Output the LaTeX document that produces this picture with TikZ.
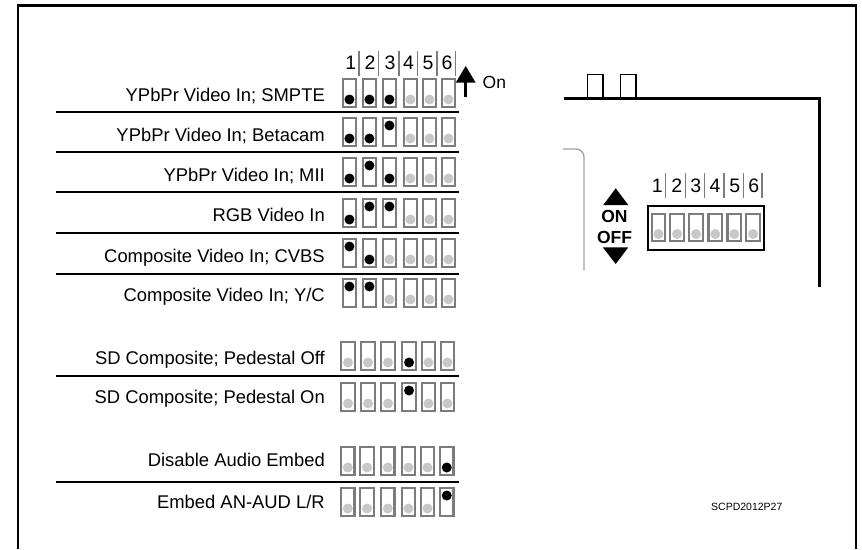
\documentclass[tikz,border=0pt]{standalone}
\usepackage{fontspec}
\setmainfont{Liberation Sans}
\definecolor{swg}{HTML}{7C7C7C}
\definecolor{dotg}{HTML}{C8C8C8}
\definecolor{edgeg}{HTML}{A0A0A0}
\tikzset{
 frameline/.style={line width=2.6pt,black},
 bodyline/.style={line width=2.9pt,black},
 portline/.style={line width=1.9pt,black},
 sepline/.style={line width=1.9pt,black},
 swbox/.style={draw=swg,line width=2.1pt},
 barline/.style={draw=swg,line width=1.3pt},
 lab/.style={anchor=base east,font=\fontsize{18.4}{20}\selectfont,inner sep=0pt},
 num/.style={font=\fontsize{19.5}{21}\selectfont,inner sep=0pt},
 big/.style={font=\fontsize{17.5}{20}\bfseries\selectfont,inner sep=0pt},
}
% #1 top y, #2 height, #3 dot low offset, #4 dot high offset, #5 list xleft/state
\newcommand{\swrow}[5]{%
 \foreach \xx/\st in {#5}{%
  \draw[swbox] (\xx+1,#1+1) rectangle (\xx+14.5,#1+#2-1);
  \ifnum\st=0 \fill[dotg] (\xx+7.75,#1+#3) circle (5);\fi
  \ifnum\st=1 \fill[black] (\xx+7.75,#1+#3) circle (5);\fi
  \ifnum\st=2 \fill[black] (\xx+7.75,#1+#4) circle (5);\fi
 }}
\newcommand{\rowA}[7]{\swrow{#1}{30}{21.5}{8.5}{341.7/#2,361.7/#3,381.7/#4,402.7/#5,421.7/#6,440.7/#7}}
\newcommand{\rowB}[7]{\swrow{#1}{30}{21.5}{8.5}{340.3/#2,360.3/#3,380.3/#4,401.3/#5,420.7/#6,439.7/#7}}
\newcommand{\rowC}[7]{\swrow{#1}{30}{21.5}{8.5}{340/#2,359.3/#3,380/#4,400.7/#5,419.7/#6,439/#7}}
\begin{document}
\begin{tikzpicture}[x=1pt,y=-1pt]
\useasboundingbox (0,0) rectangle (862,549);
% outer frame
\draw[frameline] (18,549) -- (18,5.5) -- (855.8,5.5) -- (855.8,549);
% header
\foreach \nx/\nn in {350.7/1,370/2,390/3,408.5/4,428/5,447/6}
  \node[num] (h\nn) at (\nx,63) {\nn};
\foreach \bx in {359,378.7,399,417.7,437,455.7}
  \draw[barline] (\bx,51) -- (\bx,76);
% On arrow
\fill[black] (465.7,66) -- (475.7,82.7) -- (455.7,82.7) -- cycle;
\draw[line width=3pt,black] (465.7,82) -- (465.7,96.7);
\node[num,anchor=west,font=\fontsize{17.5}{20}\selectfont] (onlabel) at (482.5,82.7) {On};
% labels
\node[lab] (l1) at (325,101.7) {YPbPr Video In; SMPTE};
\node[lab] (l2) at (325,141.7) {YPbPr Video In; Betacam};
\node[lab] (l3) at (325,181.7) {YPbPr Video In; MII};
\node[lab] (l4) at (325,221.5) {RGB Video In};
\node[lab] (l5) at (325,262) {Composite Video In; CVBS};
\node[lab] (l6) at (325,301.5) {Composite Video In; Y/C};
\node[lab] (l7) at (325,364.5) {SD Composite; Pedestal Off};
\node[lab] (l8) at (325,403) {SD Composite; Pedestal On};
\node[lab] (l9) at (325,466) {Disable Audio Embed};
\node[lab] (l10) at (325,508.5) {Embed AN-AUD L/R};
% separators
\foreach \sy in {112,152,192,233,274,376,482}
  \draw[sepline] (56,\sy) -- (459,\sy);
% switch rows
\rowA{78}{1}{1}{1}{0}{0}{0}
\rowA{117}{1}{1}{2}{0}{0}{0}
\rowA{157}{1}{2}{1}{0}{0}{0}
\rowA{198}{1}{2}{2}{0}{0}{0}
\rowA{238}{2}{1}{0}{0}{0}{0}
\rowA{278}{2}{2}{0}{0}{0}{0}
\rowB{341}{0}{0}{0}{1}{0}{0}
\rowB{382}{0}{0}{0}{2}{0}{0}
\rowC{446}{0}{0}{0}{0}{0}{1}
\rowC{487}{0}{0}{0}{0}{0}{2}
% equipment outline
\draw[bodyline] (564,98.3) -- (819.7,98.3) -- (819.7,287);
\draw[portline] (587.5,98.3) -- (587.5,74.5) -- (603,74.5) -- (603,98.3);
\draw[portline] (620.5,98.3) -- (620.5,74.5) -- (636,74.5) -- (636,98.3);
\draw[edgeg,line width=1.3pt,rounded corners=8pt] (563,149) -- (584,149) -- (584,270);
% on/off
\fill[black] (615.7,188.3) -- (628.3,205) -- (603.3,205) -- cycle;
\node[big] (onmark) at (614.5,216.8) {ON};
\node[big] (offmark) at (614.5,237.7) {OFF};
\fill[black] (615.7,264) -- (628.3,247.3) -- (602.8,247.3) -- cycle;
% panel switch
\draw[black,line width=2.2pt] (647.7,206) rectangle (764.3,250.2);
\swrow{212.7}{29.6}{21.3}{8}{650.7/0,669.3/0,688.3/0,707.5/0,726.5/0,745.3/0}
\foreach \nx/\nn in {657.3/1,676.7/2,695.7/3,715/4,734.7/5,753.7/6}
  \node[num] (p\nn) at (\nx,186) {\nn};
\foreach \bx in {665.7,685.3,704.7,724,743.7,762}
  \draw[barline] (\bx,173.3) -- (\bx,198);
\node[anchor=west,inner sep=0pt,font=\fontsize{10.5}{12}\selectfont] (code) at (711,506.7) {SCPD2012P27};
\end{tikzpicture}
\end{document}
